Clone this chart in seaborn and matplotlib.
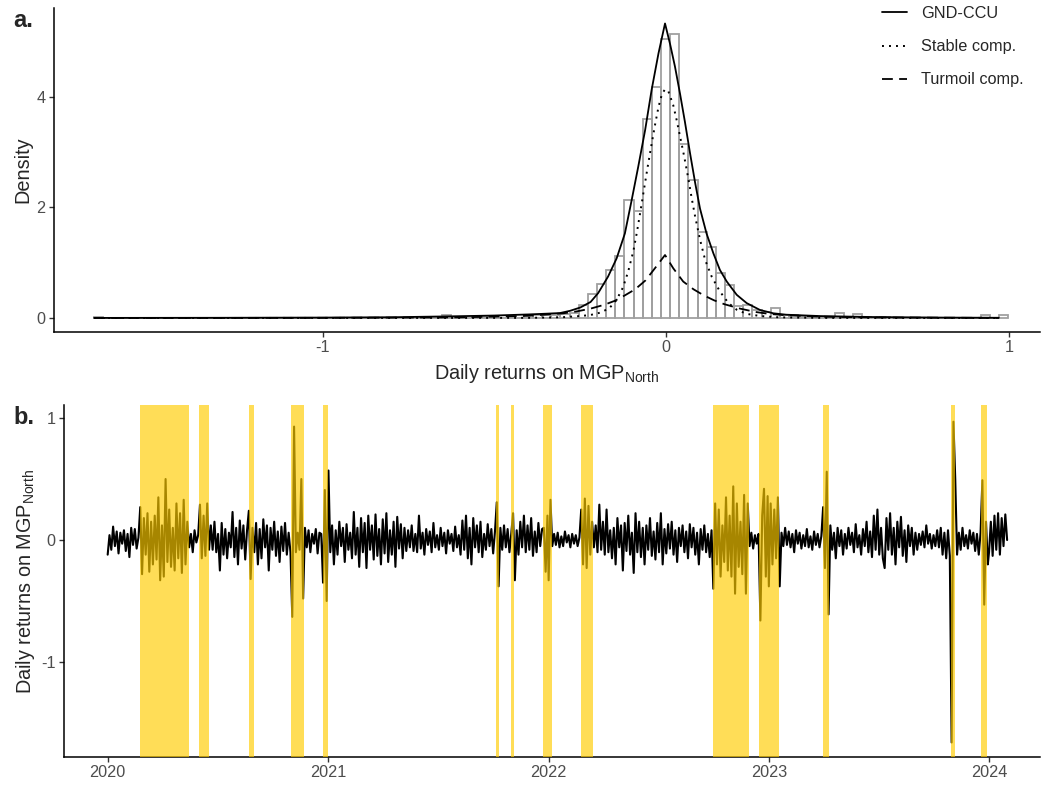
import matplotlib
matplotlib.use("Agg")
import matplotlib.pyplot as plt
import matplotlib.dates as mdates
import seaborn as sns
import pandas as pd
import numpy as np

# ---- panel a: histogram of daily returns (density per bin) ----
bin_start = -1.667
bin_width = 0.02665
hist_density = [
    0.025, 0, 0, 0, 0, 0, 0, 0, 0, 0,
    0, 0, 0, 0, 0, 0, 0, 0, 0, 0,
    0, 0, 0, 0, 0, 0, 0, 0, 0, 0,
    0, 0, 0, 0, 0, 0, 0, 0, 0.05, 0,
    0, 0, 0.025, 0.025, 0, 0, 0, 0.05, 0.05, 0.05,
    0.05, 0.07, 0.09, 0.24, 0.44, 0.62, 0.87, 1.13, 2.14, 1.94,
    3.60, 4.18, 5.04, 5.14, 3.15, 2.49, 1.56, 1.28, 0.81, 0.59,
    0.22, 0.24, 0.15, 0.10, 0.19, 0.05, 0.05, 0.025, 0.025, 0.025,
    0, 0.09, 0.025, 0.07, 0.025, 0, 0.025, 0, 0, 0,
    0, 0, 0, 0, 0, 0, 0, 0.06, 0, 0.06,
]

# fitted densities
gnd_x = [-1.667, -1.3, -1.0, -0.8, -0.63, -0.5, -0.4, -0.35, -0.309, -0.28,
         -0.25, -0.22, -0.198, -0.169, -0.144, -0.12, -0.10, -0.081, -0.061,
         -0.042, -0.022, -0.003, 0.012, 0.026, 0.041, 0.055, 0.070, 0.085,
         0.099, 0.118, 0.138, 0.157, 0.177, 0.206, 0.235, 0.274, 0.313, 0.35,
         0.45, 0.6, 0.8, 0.97]
gnd_y = [0.002, 0.004, 0.008, 0.014, 0.03, 0.045, 0.065, 0.078, 0.09, 0.13,
         0.19, 0.29, 0.45, 0.75, 1.08, 1.53, 2.14, 2.74, 3.40,
         4.13, 4.79, 5.33, 4.95, 4.55, 4.05, 3.55, 2.98, 2.44,
         1.98, 1.53, 1.17, 0.87, 0.66, 0.42, 0.27, 0.145, 0.085, 0.06,
         0.035, 0.018, 0.008, 0.004]

stable_x = [-1.667, -0.4, -0.3, -0.25, -0.22, -0.19, -0.165, -0.145, -0.125,
            -0.11, -0.095, -0.085, -0.075, -0.065, -0.054, -0.042, -0.032,
            -0.022, -0.012, -0.003, 0.007, 0.021, 0.031, 0.043, 0.053, 0.065,
            0.075, 0.085, 0.099, 0.114, 0.133, 0.157, 0.182, 0.206, 0.235,
            0.274, 0.33, 0.45, 0.97]
stable_y = [0.0, 0.003, 0.015, 0.036, 0.055, 0.10, 0.18, 0.32, 0.56,
            0.85, 1.22, 1.55, 1.92, 2.30, 2.72, 3.15, 3.50,
            3.82, 4.05, 4.14, 4.10, 3.85, 3.58, 3.22, 2.92, 2.52,
            2.16, 1.83, 1.42, 1.05, 0.75, 0.48, 0.27, 0.15, 0.075,
            0.036, 0.012, 0.003, 0.0]

turmoil_x = [-1.667, -1.0, -0.6, -0.4, -0.3, -0.26, -0.22, -0.18, -0.15,
             -0.12, -0.09, -0.06, -0.03, -0.003, 0.021, 0.05, 0.08, 0.11,
             0.14, 0.17, 0.216, 0.26, 0.30, 0.35, 0.45, 0.6, 0.97]
turmoil_y = [0.001, 0.003, 0.012, 0.04, 0.085, 0.12, 0.17, 0.24, 0.31,
             0.41, 0.52, 0.68, 0.92, 1.14, 0.90, 0.66, 0.52, 0.41,
             0.32, 0.25, 0.17, 0.11, 0.075, 0.05, 0.025, 0.01, 0.002]

# ---- panel b: daily returns, one value every third day ----
ret_2020 = [
    -0.12, 0.04, -0.08, 0.11, -0.05, 0.07, -0.11, 0.06, -0.03, 0.08,
    -0.09, 0.05, -0.14, 0.10, -0.04, 0.09, -0.07, 0.02,
    0.27, -0.28, 0.18, -0.12, 0.22, -0.26, 0.15, -0.20, 0.20, -0.16,
    0.35, -0.33, 0.12, -0.30, 0.50, -0.18, 0.25, -0.22, 0.10, -0.25,
    0.30, -0.15, 0.22, -0.27, 0.33, -0.20, 0.15,
    -0.06, 0.05, -0.10, 0.08, -0.02, 0.04,
    0.29, -0.15, 0.20, -0.13, 0.30, -0.08,
    0.12, -0.08, 0.15, -0.10, 0.05, -0.25, 0.14, -0.12, 0.09, -0.15,
    0.06, -0.06, 0.23, -0.14, 0.10, -0.20, 0.16, -0.07, 0.12, -0.16, 0.08,
    0.24, -0.32, 0.10,
    -0.10, 0.14, -0.20, 0.09, -0.15, 0.17, -0.06, 0.12, -0.25, 0.10,
    -0.08, 0.15, -0.13, 0.07, -0.18, 0.11, -0.09, 0.14, -0.12, 0.06, -0.10,
    -0.63, 0.93, -0.10, 0.06, -0.08, 0.50, -0.48,
    0.10, -0.06, 0.08, -0.10, 0.05, -0.03, 0.09, -0.11, 0.06,
    0.05, -0.35, 0.41, -0.50,
]
ret_2021 = [
    0.57, -0.10,
    0.12, -0.20, 0.08, -0.12, 0.15, -0.05, 0.10, -0.18, 0.13, -0.08, 0.06,
    -0.15, 0.23, -0.12, 0.10, -0.22, 0.18, -0.10, 0.14, -0.23, 0.20,
    -0.08, 0.12, -0.16, 0.21, -0.13, 0.09, -0.20, 0.17, -0.11, 0.22,
    -0.18, 0.08, -0.12, 0.15, -0.22, 0.19, -0.07, 0.13, -0.15, 0.10, -0.09,
    0.08, -0.06, 0.12, -0.09, 0.05, -0.10, 0.20, -0.07, 0.06, -0.12,
    0.09, -0.04, 0.07, -0.10, 0.14, -0.06, 0.04, -0.08, 0.10, -0.05,
    0.06, -0.11, 0.08, -0.03, 0.05, -0.09, 0.11, -0.06, 0.04,
    -0.12, 0.16, -0.08, 0.20, -0.15, 0.10, -0.20, 0.18, -0.06, 0.12,
    -0.10, 0.15, -0.14, 0.05, -0.08, 0.13, -0.05, 0.09, -0.11, 0.07,
    0.31, -0.38,
    0.10, -0.08, 0.12, -0.06, 0.09, -0.10, 0.05,
    0.22, -0.33,
    0.08, -0.12, 0.15, -0.06, 0.20, -0.10, 0.12, -0.08, 0.18, -0.13,
    0.07, -0.10, 0.14, -0.05, 0.09,
    0.10, -0.26, 0.20,
]
ret_2022 = [
    -0.33, 0.33, -0.05,
    0.05, -0.04, 0.06, -0.06, 0.03, -0.05, 0.07, -0.02, 0.04, -0.06,
    0.05, -0.03, 0.04, -0.05, 0.02,
    0.25, -0.20, 0.34, -0.23, 0.28, -0.12, 0.15,
    -0.06, 0.12, -0.10, 0.29, -0.08, 0.15, -0.12, 0.25, -0.10, 0.08,
    -0.15, 0.10, -0.20, 0.18, -0.06, 0.12, -0.25, 0.14, -0.09, 0.20,
    -0.12, 0.06, -0.27, 0.22, -0.10, 0.15, -0.14, 0.10, -0.20, 0.12,
    -0.08, 0.18, -0.13, 0.07, -0.16, 0.14, -0.10, 0.22, -0.20, 0.09,
    -0.11, 0.13, -0.07, 0.15, -0.12, 0.08, -0.18, 0.10, -0.05, 0.12,
    -0.10, 0.07, -0.15, 0.13, -0.06, 0.10, -0.12, 0.06, -0.20, 0.09,
    -0.08, 0.12, -0.10, 0.05, -0.14, 0.08,
    -0.40, 0.30, -0.20, 0.25, -0.30, 0.12, -0.18, 0.35, -0.25, 0.20,
    -0.30, 0.44, -0.44, 0.30, -0.22, 0.15, -0.28, 0.37, -0.44, 0.30,
    -0.05, 0.06, -0.07, 0.04, -0.03, 0.05,
    -0.66, 0.20, 0.42, -0.30, 0.36,
]
ret_2023 = [
    -0.38, 0.30, -0.20, 0.25, -0.15, 0.35, -0.38,
    0.06, -0.05, 0.10, -0.04, 0.07, -0.06, 0.05, -0.10, 0.08, -0.03,
    0.06, -0.07, 0.04, -0.05, 0.09, -0.06, 0.03, -0.08, 0.07, -0.04,
    0.05, -0.06, 0.03,
    0.27, -0.23, 0.56, -0.61,
    0.12, -0.08, 0.06, -0.15, 0.10, -0.05, 0.08, -0.12, 0.05, -0.07,
    0.10, -0.04, 0.06, -0.10, 0.13, -0.06, 0.04, -0.12, 0.09, -0.05,
    0.15, -0.10, 0.07, -0.14, 0.20, -0.08, 0.25, -0.12, 0.10, -0.15,
    -0.23, 0.18, -0.08, 0.22, -0.12, 0.10, -0.20, 0.15, -0.06, 0.19,
    -0.13, 0.08, -0.18, 0.12, -0.05, 0.10, -0.12, 0.06, -0.08, 0.05,
    -0.04, 0.07, -0.06, 0.12, -0.03, 0.05, -0.07, 0.04, -0.05, 0.08,
    -0.06, 0.10, -0.12, 0.06, -0.15, 0.08, -0.13,
    -1.66, 0.97, 0.50, -0.12,
    0.06, -0.08, 0.10, -0.05, 0.04, -0.07, 0.08, -0.03, 0.06, -0.09,
    0.05, -0.12,
    0.06, 0.49, -0.53, 0.15, -0.20,
]
ret_2024 = [-0.10, 0.15, -0.13, 0.20, -0.08, 0.22, -0.12, 0.18, -0.05, 0.21, 0.0]

yearly_returns = {2020: ret_2020, 2021: ret_2021, 2022: ret_2022,
                  2023: ret_2023, 2024: ret_2024}

turmoil_periods = [
    ("2020-02-23", "2020-05-14"), ("2020-05-31", "2020-06-17"),
    ("2020-08-22", "2020-08-30"), ("2020-10-31", "2020-11-21"),
    ("2020-12-23", "2020-12-31"), ("2021-10-06", "2021-10-10"),
    ("2021-10-31", "2021-11-05"), ("2021-12-23", "2022-01-06"),
    ("2022-02-23", "2022-03-15"), ("2022-09-30", "2022-11-29"),
    ("2022-12-16", "2023-01-18"), ("2023-03-31", "2023-04-10"),
    ("2023-10-30", "2023-11-05"), ("2023-12-19", "2023-12-29"),
]

# ---- style ----
sns.set_theme(style="ticks")
plt.rcParams["font.family"] = ["Liberation Sans", "DejaVu Sans"]
plt.rcParams["mathtext.fontset"] = "custom"
plt.rcParams["mathtext.rm"] = "Liberation Sans"
plt.rcParams["mathtext.it"] = "Liberation Sans:italic"
plt.rcParams["axes.unicode_minus"] = False

TICK_FS = 11.7
TITLE_FS = 14.3
TICK_COLOR = "#4D4D4D"
YELLOW = "#FFCC00"

W, H = 1041, 787
fig = plt.figure(figsize=(W / 100, H / 100), dpi=100)

def px_axes(left, top, right, bottom):
    return fig.add_axes([left / W, 1 - bottom / H, (right - left) / W, (bottom - top) / H])

ax1 = px_axes(54, 8, 1040, 332)
ax2 = px_axes(64, 405, 1040, 757)

# panel a
edges = [bin_start + bin_width * i for i in range(len(hist_density) + 1)]
hist_df = pd.DataFrame({
    "center": [e + bin_width / 2 for e in edges[:-1]],
    "density": hist_density,
})
sns.histplot(data=hist_df, x="center", weights="density", bins=edges, fill=False,
             color="#A0A0A0", linewidth=1.3, ax=ax1)
sns.lineplot(x=gnd_x, y=gnd_y, color="black", linewidth=1.3, label="GND-CCU", ax=ax1)
sns.lineplot(x=stable_x, y=stable_y, color="black", linewidth=1.4,
             linestyle=(0, (1, 2.6)), label="Stable comp.", ax=ax1)
sns.lineplot(x=turmoil_x, y=turmoil_y, color="black", linewidth=1.3,
             linestyle=(0, (6, 3.5)), label="Turmoil comp.", ax=ax1)

ax1.set_xlim(-1.784, 1.090)
ax1.set_ylim(-0.253, 5.61)
ax1.set_xticks([-1, 0, 1])
ax1.set_yticks([0, 2, 4])
ax1.set_xlabel("Daily returns on MGP$_{\\mathrm{North}}$", fontsize=TITLE_FS, labelpad=5)
ax1.set_ylabel("Density", fontsize=TITLE_FS, labelpad=3)
leg = ax1.legend(loc="upper left", bbox_to_anchor=(882 / W, 1 - 6 / H),
                 bbox_transform=fig.transFigure, frameon=False, fontsize=TICK_FS,
                 handlelength=1.55, handletextpad=0.85, labelspacing=1.12,
                 borderpad=0, borderaxespad=0)

# panel b
frames = []
for year, vals in yearly_returns.items():
    dates = pd.date_range(f"{year}-01-01", periods=len(vals), freq="3D")
    frames.append(pd.DataFrame({"date": dates, "ret": vals}))
ts = pd.concat(frames, ignore_index=True)

sns.lineplot(data=ts, x="date", y="ret", color="black", linewidth=1.5, ax=ax2)
for start, end in turmoil_periods:
    ax2.axvspan(pd.Timestamp(start), pd.Timestamp(end), color=YELLOW,
                alpha=0.66, lw=0, zorder=3)

ax2.set_xlim(pd.Timestamp("2020-01-01") - pd.Timedelta(days=72.4),
             pd.Timestamp("2024-01-01") + pd.Timedelta(days=84.5))
ax2.set_ylim(-1.779, 1.107)
ax2.set_yticks([-1, 0, 1])
ax2.xaxis.set_major_locator(mdates.YearLocator())
ax2.xaxis.set_major_formatter(mdates.DateFormatter("%Y"))
ax2.set_xlabel("")
ax2.set_ylabel("Daily returns on MGP$_{\\mathrm{North}}$", fontsize=TITLE_FS, labelpad=3)

for ax in (ax1, ax2):
    sns.despine(ax=ax)
    for side in ("left", "bottom"):
        ax.spines[side].set_linewidth(1.1)
        ax.spines[side].set_color("black")
    ax.tick_params(axis="both", labelsize=TICK_FS, labelcolor=TICK_COLOR,
                   color="#333333", width=1.0, length=3.6, pad=2.5)

fig.text(13 / W, 1 - 27 / H, "a.", fontsize=17, fontweight="bold", va="baseline")
fig.text(13 / W, 1 - 423.5 / H, "b.", fontsize=17, fontweight="bold", va="baseline")

fig.savefig("out.png", dpi=100)
